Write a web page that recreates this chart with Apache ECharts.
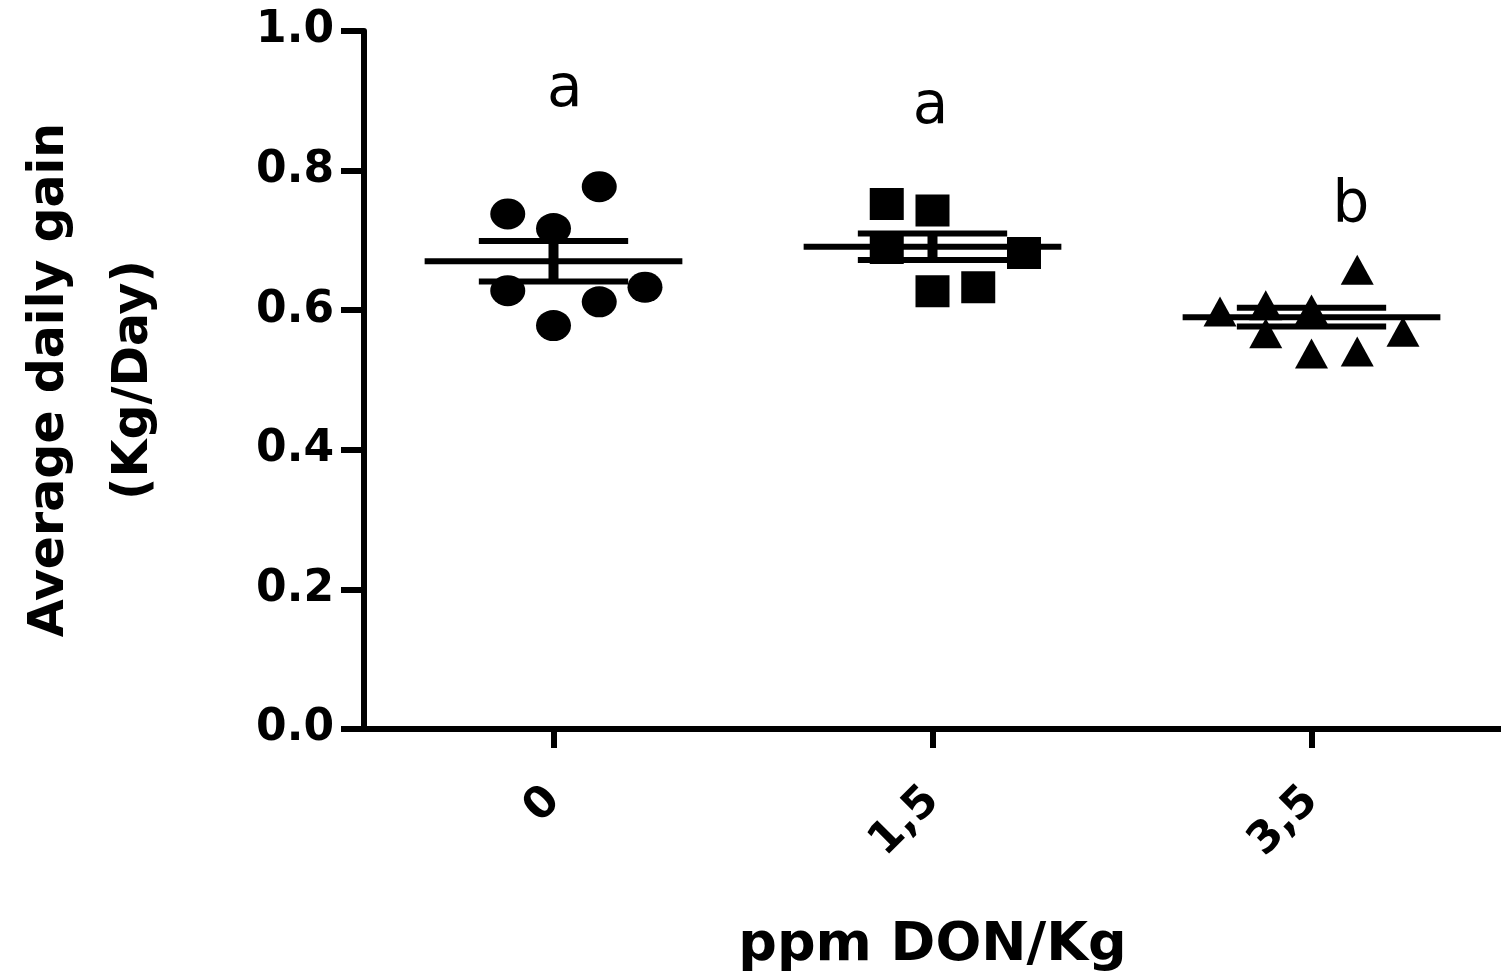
<!DOCTYPE html>
<html>
<head>
<meta charset="utf-8">
<script src="https://cdn.jsdelivr.net/npm/echarts@6/dist/echarts.min.js"></script>
<style>
  html, body { margin: 0; padding: 0; background: #ffffff; }
  #chart { width: 1501px; height: 980px; }
</style>
</head>
<body>
<div id="chart"></div>
<script>
// Dose groups (ppm DON/Kg) shown on the x axis
const doses = ['0', '1,5', '3,5'];

// Individual average daily gains (Kg/Day) for each dose group
const gain0 = [0.777, 0.738, 0.717, 0.628, 0.612, 0.633, 0.578];
const gain15 = [0.752, 0.743, 0.689, 0.682, 0.627, 0.633];
const gain35 = [0.658, 0.598, 0.607, 0.601, 0.567, 0.538, 0.541, 0.569];

// Dot column of each animal inside its group (0 = centre column)
const lane0 = [1, -1, 0, -1, 1, 2, 0];
const lane15 = [-1, 0, -1, 2, 0, 1];
const lane35 = [1, -2, -1, 0, -1, 0, 1, 2];

// Group mean and standard error of the mean
const means = [0.670, 0.691, 0.590];
const sems = [0.029, 0.019, 0.0135];

// Statistical grouping letters
const sigLetters = ['a', 'a', 'b'];

// Y axis ticks
const yTicks = [0.0, 0.2, 0.4, 0.6, 0.8, 1.0];

// ---- layout / style constants ----
const FONT = 'DejaVu Sans';
const LANE = 0.1207;          // spacing between dot columns, in category units
const MEAN_HALF = 0.34;       // half length of the mean bar
const SEM_HALF = 0.197;       // half length of the SEM bars
const LETTER_SPOT = [[0.030, 0.872], [-0.005, 0.848], [0.104, 0.707]];

function points(values, lanes, g) {
  return values.map((v, i) => [g + lanes[i] * LANE, v]);
}

const chart = echarts.init(document.getElementById('chart'), null, { renderer: 'canvas' });

const option = {
  backgroundColor: '#ffffff',
  animation: false,
  grid: { left: 356, right: 0, top: 31, bottom: 251, containLabel: false },
  xAxis: [
    {
      type: 'category',
      data: doses,
      boundaryGap: true,
      axisLine: { show: true, onZero: false, lineStyle: { color: '#000', width: 6 } },
      axisTick: { show: true, alignWithLabel: true, length: 19, lineStyle: { color: '#000', width: 6 } },
      axisLabel: {
        rotate: 45, margin: 65, color: '#000',
        fontFamily: FONT, fontWeight: 'bold', fontSize: 44
      },
      splitLine: { show: false },
      name: 'ppm DON/Kg',
      nameLocation: 'middle',
      nameGap: 190,
      nameTextStyle: { color: '#000', fontFamily: FONT, fontWeight: 'bold', fontSize: 54, lineHeight: 54 }
    },
    {
      type: 'value',
      min: -0.5, max: 2.5,
      show: false
    }
  ],
  yAxis: {
    type: 'value',
    min: yTicks[0], max: yTicks[yTicks.length - 1], interval: yTicks[1] - yTicks[0],
    axisLine: { show: true, onZero: false, lineStyle: { color: '#000', width: 6 } },
    axisTick: { show: true, length: 23, lineStyle: { color: '#000', width: 6 } },
    axisLabel: {
      margin: 30, color: '#000', fontFamily: FONT, fontWeight: 'bold', fontSize: 44,
      formatter: v => v.toFixed(1)
    },
    splitLine: { show: false },
    name: 'Average daily gain\n(Kg/Day)',
    nameLocation: 'middle',
    nameRotate: 90,
    nameGap: 188,
    nameTextStyle: { color: '#000', fontFamily: FONT, fontWeight: 'bold', fontSize: 49, lineHeight: 84 }
  },
  series: [
    {
      type: 'scatter', xAxisIndex: 1, yAxisIndex: 0,
      symbol: 'circle', symbolSize: [35, 31],
      itemStyle: { color: '#000', opacity: 1 },
      data: points(gain0, lane0, 0)
    },
    {
      type: 'scatter', xAxisIndex: 1, yAxisIndex: 0,
      symbol: 'rect', symbolSize: [34, 32],
      itemStyle: { color: '#000', opacity: 1 },
      data: points(gain15, lane15, 1)
    },
    {
      type: 'scatter', xAxisIndex: 1, yAxisIndex: 0,
      symbol: 'triangle', symbolSize: [33, 30],
      itemStyle: { color: '#000', opacity: 1 },
      data: points(gain35, lane35, 2)
    },
    {
      // mean bar with SEM whiskers for every group
      type: 'custom', xAxisIndex: 1, yAxisIndex: 0, z: 5,
      data: means.map((m, i) => [i, m, sems[i]]),
      renderItem(params, api) {
        const g = api.value(0), m = api.value(1), s = api.value(2);
        const seg = (x0, y0, x1, y1, w) => {
          const a = api.coord([x0, y0]), b = api.coord([x1, y1]);
          return { type: 'line', shape: { x1: a[0], y1: a[1], x2: b[0], y2: b[1] },
                   style: { stroke: '#000', lineWidth: w, lineCap: 'butt' } };
        };
        return {
          type: 'group',
          children: [
            seg(g - MEAN_HALF, m, g + MEAN_HALF, m, 6),
            seg(g - SEM_HALF, m + s, g + SEM_HALF, m + s, 6),
            seg(g - SEM_HALF, m - s, g + SEM_HALF, m - s, 6),
            seg(g, m - s, g, m + s, 10)
          ]
        };
      }
    },
    {
      // grouping letters above each dose
      type: 'custom', xAxisIndex: 1, yAxisIndex: 0, z: 6,
      data: sigLetters.map((t, i) => [i + LETTER_SPOT[i][0], LETTER_SPOT[i][1]]),
      renderItem(params, api) {
        const p = api.coord([api.value(0), api.value(1)]);
        return {
          type: 'text', x: p[0], y: p[1],
          style: {
            text: sigLetters[params.dataIndex],
            fill: '#000',
            font: 'normal 58px "' + FONT + '"',
            align: 'center', verticalAlign: 'bottom'
          }
        };
      }
    }
  ]
};

chart.setOption(option);
</script>
</body>
</html>
